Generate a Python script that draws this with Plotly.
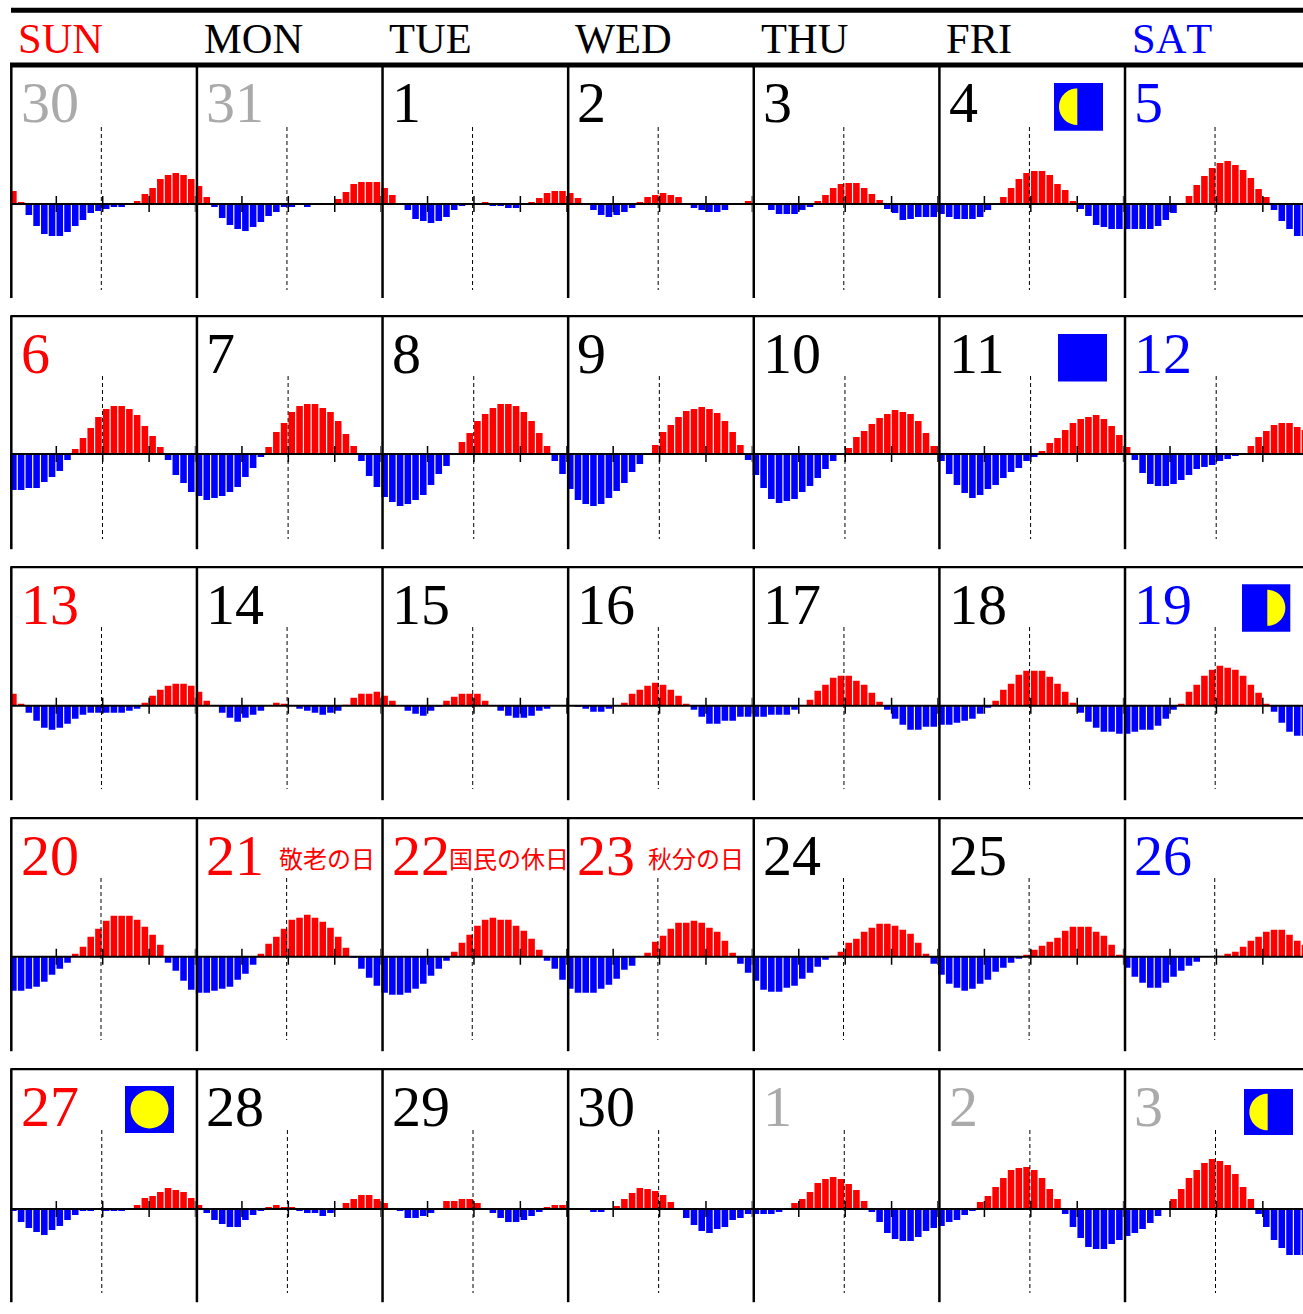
import math
import plotly.graph_objects as go

W, H = 1303, 1314

WEEKDAYS = ["SUN", "MON", "TUE", "WED", "THU", "FRI", "SAT"]
WEEKDAY_COLORS = ["#ff0000", "#000000", "#000000", "#000000", "#000000", "#000000", "#0000ff"]

DAY_LABELS = [
    ["30", "31", "1", "2", "3", "4", "5"],
    ["6", "7", "8", "9", "10", "11", "12"],
    ["13", "14", "15", "16", "17", "18", "19"],
    ["20", "21", "22", "23", "24", "25", "26"],
    ["27", "28", "29", "30", "1", "2", "3"],
]
DAY_COLORS = [
    ["#aaaaaa", "#aaaaaa", "#000000", "#000000", "#000000", "#000000", "#0000ff"],
    ["#ff0000", "#000000", "#000000", "#000000", "#000000", "#000000", "#0000ff"],
    ["#ff0000", "#000000", "#000000", "#000000", "#000000", "#000000", "#0000ff"],
    ["#ff0000", "#ff0000", "#ff0000", "#ff0000", "#000000", "#000000", "#0000ff"],
    ["#ff0000", "#000000", "#000000", "#000000", "#aaaaaa", "#aaaaaa", "#aaaaaa"],
]

WEEK1 = [
    [13,2,-11,-22,-30,-32,-32,-28,-22,-16,-9,-7,-5,-3,-3,1,3,10,16,25,29,31,29,25],
    [18,7,-3,-14,-21,-25,-27,-23,-18,-12,-8,-3,-3,-1,-3,-1,-1,1,5,12,20,22,22,22],
    [16,9,0,-6,-15,-17,-19,-17,-13,-6,-2,-1,0,2,-2,-2,-4,-4,0,2,6,11,13,13],
    [11,6,0,-6,-11,-13,-11,-8,-4,2,7,9,11,9,7,0,-4,-6,-8,-8,-6,-1,-1,3],
    [1,0,-6,-10,-10,-10,-6,-3,3,9,16,20,21,21,16,10,4,-5,-9,-16,-15,-13,-13,-13],
    [-10,-13,-15,-15,-15,-13,-6,0,7,16,25,31,33,33,29,20,14,3,-5,-12,-21,-23,-25,-25],
    [-25,-25,-25,-25,-22,-16,-9,0,8,19,28,36,41,43,39,34,26,15,7,-6,-17,-25,-32,-32],
]
WEEK2 = [
    [-36,-36,-34,-34,-28,-23,-17,-6,5,16,26,37,45,48,48,45,39,28,18,7,-6,-21,-29,-38],
    [-42,-46,-44,-42,-38,-33,-23,-14,-3,7,22,31,42,48,50,50,46,42,33,20,8,-7,-22,-33],
    [-43,-48,-52,-50,-46,-41,-31,-20,-12,0,12,21,33,40,46,50,50,48,42,33,21,8,-7,-20],
    [-35,-46,-50,-52,-50,-44,-37,-29,-18,-10,1,9,22,29,37,43,45,47,45,41,33,22,9,-6],
    [-21,-34,-45,-49,-47,-45,-38,-32,-24,-15,-7,0,6,17,23,30,36,40,44,42,40,33,21,8],
    [-7,-20,-31,-39,-44,-41,-35,-31,-24,-18,-14,-7,-3,3,11,16,24,31,35,37,39,35,28,19],
    [7,-6,-19,-30,-32,-32,-30,-26,-21,-15,-13,-11,-7,-5,-2,1,8,17,23,29,31,31,27,24],
]
WEEK3 = [
    [12,2,-7,-15,-22,-24,-22,-18,-13,-9,-7,-7,-7,-7,-7,-5,-3,3,10,16,20,22,22,20],
    [14,5,0,-7,-12,-16,-12,-9,-5,0,3,2,0,-3,-5,-7,-9,-7,-5,1,8,12,12,14],
    [10,5,0,-5,-8,-10,-5,-1,5,9,12,12,12,5,0,-5,-10,-12,-12,-10,-5,-3,0,0],
    [0,-1,-3,-6,-6,-3,0,3,12,16,20,23,21,16,10,2,-4,-11,-18,-18,-15,-15,-11,-11],
    [-11,-11,-9,-9,-9,-4,0,6,15,21,28,30,30,25,21,13,4,-4,-13,-19,-24,-24,-21,-21],
    [-19,-19,-17,-15,-13,-8,-2,5,16,22,31,35,35,35,29,22,14,3,-7,-16,-22,-26,-26,-28],
    [-28,-26,-24,-24,-20,-13,-4,2,14,21,30,36,40,38,36,30,21,13,2,-6,-17,-26,-30,-30],
]
WEEK4 = [
    [-34,-34,-32,-30,-25,-18,-12,-6,3,10,20,28,36,41,41,41,37,30,22,12,-6,-14,-24,-33],
    [-36,-36,-34,-32,-30,-23,-17,-8,3,13,20,28,37,39,42,39,35,29,20,9,-1,-12,-21,-29],
    [-36,-38,-38,-36,-32,-27,-19,-12,-4,5,14,22,31,37,39,37,37,31,26,18,7,-4,-12,-23],
    [-32,-36,-36,-36,-32,-28,-22,-13,-9,0,4,15,21,28,34,34,36,34,29,25,16,4,-7,-16],
    [-24,-33,-35,-35,-31,-29,-22,-16,-10,-3,1,5,14,18,25,29,33,33,31,27,23,14,3,-7],
    [-18,-27,-31,-34,-32,-27,-23,-15,-11,-6,-2,2,7,11,15,19,26,30,30,30,25,21,12,2],
    [-11,-20,-26,-31,-31,-26,-20,-14,-9,-5,0,0,1,3,5,10,16,20,25,27,27,22,16,12],
]
WEEK5 = [
    [-2,-13,-19,-23,-26,-21,-17,-11,-6,-2,-2,0,-2,-2,-2,0,4,11,13,17,21,19,17,11],
    [4,-4,-11,-15,-18,-18,-11,-6,-2,2,4,2,2,-2,-4,-4,-7,-4,0,6,10,14,14,10],
    [6,0,-2,-9,-9,-7,-4,0,8,8,10,10,6,0,-4,-9,-13,-13,-11,-7,-3,2,4,4],
    [1,0,0,-3,-3,0,3,10,16,21,20,18,14,7,0,-9,-16,-22,-24,-20,-18,-11,-9,-5],
    [-5,-5,-5,-3,0,6,10,17,26,30,32,30,25,19,8,-3,-13,-24,-30,-32,-32,-28,-22,-19],
    [-17,-13,-11,-6,-2,7,13,22,31,39,41,42,39,31,20,10,-5,-18,-29,-38,-40,-40,-35,-31],
    [-27,-24,-20,-14,-7,0,10,20,31,39,46,50,48,44,35,22,10,-5,-18,-31,-39,-46,-46,-46],
]
WEEKS = [WEEK1, WEEK2, WEEK3, WEEK4, WEEK5]
HOURS = list(range(24))
TICK_HOURS = [6, 12, 18, 24]
NOON_HOUR_BY_ROW = [11.82, 11.97, 11.84, 11.78, 11.88]

HOLIDAYS = [(3, 1, "敬老の日", 278), (3, 2, "国民の休日", 448), (3, 3, "秋分の日", 647)]

COL_PITCH = 185.62
HOUR_PX = COL_PITCH / 24
X0 = 9.9
LINE_X0 = 11.3
ROW_TOPS = [65, 316.2, 567.2, 818.2, 1069.2]
BASELINES = [204, 454, 705.7, 956.8, 1209]
DASH_TOPS = [127, 376, 627, 878, 1130]
DASH_BOTTOMS = [290, 539, 789, 1040, 1293]
Y_UP, Y_DOWN = 120, 100


def px(x):
    return x / W


def py(y):
    return 1 - y / H


fig = go.Figure()
layout = dict(
    width=W, height=H, margin=dict(l=0, r=0, t=0, b=0, pad=0),
    paper_bgcolor="white", plot_bgcolor="rgba(0,0,0,0)",
    showlegend=False, hovermode=False, barmode="overlay",
)

for c in range(7):
    left = X0 + COL_PITCH * c
    right = min(left + COL_PITCH, W)
    name = "xaxis" if c == 0 else f"xaxis{c + 1}"
    layout[name] = dict(domain=[px(left), px(right)], range=[0, (right - left) / HOUR_PX],
                        visible=False, fixedrange=True, anchor="y")
for r in range(5):
    name = "yaxis" if r == 0 else f"yaxis{r + 1}"
    layout[name] = dict(domain=[py(BASELINES[r] + Y_DOWN), py(BASELINES[r] - Y_UP)],
                        range=[-Y_DOWN, Y_UP], visible=False, fixedrange=True, anchor="x")

for r, week in enumerate(WEEKS):
    for c, values in enumerate(week):
        fig.add_trace(go.Bar(
            x=[h + 0.45 for h in HOURS], y=values, width=0.85,
            marker=dict(color=["#ff0000" if v > 0 else "#0000ff" for v in values], line=dict(width=0)),
            xaxis="x" if c == 0 else f"x{c + 1}",
            yaxis="y" if r == 0 else f"y{r + 1}",
            hoverinfo="skip",
        ))

shapes = []


def hline(y, x0, x1, width):
    shapes.append(dict(type="line", xref="paper", yref="paper", x0=px(x0), x1=px(x1), y0=py(y), y1=py(y),
                       line=dict(color="#000000", width=width)))


def vline(x, y0, y1, width):
    shapes.append(dict(type="line", xref="paper", yref="paper", x0=px(x), x1=px(x), y0=py(y0), y1=py(y1),
                       line=dict(color="#000000", width=width)))


hline(10.2, 11, W, 5)
hline(65, 10, W, 5)
for r in range(5):
    if r > 0:
        hline(ROW_TOPS[r], 10.3, W, 2.2)
    hline(BASELINES[r], 10.3, W, 2)
    for c in range(7):
        vline(LINE_X0 + COL_PITCH * c, ROW_TOPS[r], ROW_TOPS[r] + 233, 2.5)
        xr = "x" if c == 0 else f"x{c + 1}"
        yr = "y" if r == 0 else f"y{r + 1}"
        for t in TICK_HOURS:
            if X0 + COL_PITCH * c + t * HOUR_PX < W:
                shapes.append(dict(type="line", xref=xr, yref=yr, x0=t, x1=t, y0=-8, y1=8,
                                   line=dict(color="#000000", width=1.5)))
        n = NOON_HOUR_BY_ROW[r]
        shapes.append(dict(type="line", xref=xr, yref="paper", x0=n, x1=n,
                           y0=py(DASH_TOPS[r]), y1=py(DASH_BOTTOMS[r]),
                           line=dict(color="#000000", width=1, dash="4px,3px")))


def moon(x0, x1, y0, y1, cx, cy, rad, kind):
    shapes.append(dict(type="rect", xref="paper", yref="paper", x0=px(x0), x1=px(x1), y0=py(y1), y1=py(y0),
                       fillcolor="#0000ff", line=dict(width=0)))
    if kind == "full":
        shapes.append(dict(type="circle", xref="paper", yref="paper", x0=px(cx - rad), x1=px(cx + rad),
                           y0=py(cy + rad), y1=py(cy - rad), fillcolor="#ffff00", line=dict(width=0)))
    elif kind in ("left", "right"):
        sign = -1 if kind == "left" else 1
        pts = []
        for i in range(49):
            a = -math.pi / 2 + math.pi * i / 48
            pts.append((px(cx + sign * rad * math.cos(a)), py(cy + rad * math.sin(a))))
        path = "M " + " L ".join(f"{a:.5f},{b:.5f}" for a, b in pts) + " Z"
        shapes.append(dict(type="path", xref="paper", yref="paper", path=path,
                           fillcolor="#ffff00", line=dict(width=0)))


moon(1054, 1103, 83, 130.7, 1077.3, 106.7, 18.3, "left")
moon(1058, 1107, 334, 381.5, 0, 0, 0, "new")
moon(1242, 1290.3, 584.3, 631.7, 1267.3, 607.8, 18, "right")
moon(125, 174, 1086, 1133, 149.5, 1109.5, 19, "full")
moon(1244, 1293, 1089, 1135, 1267.7, 1112, 18.3, "left")

annotations = []


def label(text, x, baseline, size, color, family):
    annotations.append(dict(text=text, xref="paper", yref="paper", x=px(x), y=py(baseline - 0.317 * size),
                            xanchor="left", yanchor="middle", showarrow=False, borderpad=0,
                            font=dict(family=family, size=size, color=color)))


SERIF = "Liberation Serif"
for c, (name, color) in enumerate(zip(WEEKDAYS, WEEKDAY_COLORS)):
    label(f"<span style='font-kerning:none'>{name}</span>", 17.2 + COL_PITCH * c, 51.5, 42.5, color, SERIF)
for r in range(5):
    for c in range(7):
        label(DAY_LABELS[r][c], 19.5 + COL_PITCH * c, ROW_TOPS[r] + 55.5, 58, DAY_COLORS[r][c], SERIF)
for r, c, text, x in HOLIDAYS:
    label(text, x, ROW_TOPS[r] + 47, 24, "#ff0000", "Noto Sans CJK JP")

layout["shapes"] = shapes
layout["annotations"] = annotations
fig.update_layout(**layout)
fig.write_html("out.html", post_script="document.body.style.margin='0';document.documentElement.style.overflow='hidden';",
               config={"displayModeBar": False, "responsive": False})
